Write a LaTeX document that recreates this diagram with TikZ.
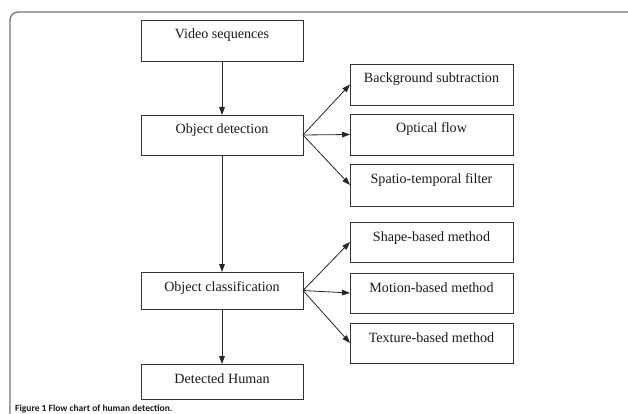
\documentclass[tikz,border=0pt]{standalone}
\usepackage{fontspec}
\setmainfont{Liberation Serif}
\newfontfamily\capfont{Carlito}
\usetikzlibrary{arrows.meta}
\tikzset{
  bx/.style={draw=black!80, line width=0.8pt, inner sep=0pt, outer sep=0pt,
    text=black!90, font=\fontsize{14.1}{16}\selectfont,
    text height=19pt, text depth=#1},
  lbox/.style={bx=#1, minimum width=162pt},
  rbox/.style={bx=#1, minimum width=163pt},
  conn/.style={draw=black!85, line width=0.8pt, -{Triangle[length=8pt,width=5.6pt]}},
  frame/.style={draw=black!55, line width=1.3pt, rounded corners=8pt}
}
\begin{document}
\begin{tikzpicture}[x=1pt,y=-1pt]
\useasboundingbox (0,0) rectangle (628,414);
\draw[frame] (10,440) -- (10,12) -- (660,12);
% left column
\node[lbox=22pt] (vid) at (222,40.5) {Video sequences};
\node[lbox=21pt] (det) at (222,135) {Object detection};
\node[lbox=18pt] (cls) at (222,290.5) {Object classification};
\node[lbox=16pt] (hum) at (222,381.5) {Detected Human};
% right column
\node[rbox=22pt] (bg) at (431.5,84.5) {Background subtraction};
\node[rbox=22pt] (of) at (431.5,134.5) {Optical flow};
\node[rbox=23pt] (st) at (431.5,185) {Spatio-temporal filter};
\node[rbox=21pt] (sh) at (431.5,242) {Shape-based method};
\node[rbox=21pt] (mo) at (431.5,293) {Motion-based method};
\node[rbox=21pt] (tx) at (431.5,343) {Texture-based method};
% connectors
\draw[conn] (vid.south) -- (det.north);
\draw[conn] (det.south) -- (cls.north);
\draw[conn] (cls.south) -- (hum.north);
\draw[conn] (det.east) -- (bg.west);
\draw[conn] (det.east) -- (of.west);
\draw[conn] (det.east) -- (st.west);
\draw[conn] (cls.east) -- (sh.west);
\draw[conn] (cls.east) -- (mo.west);
\draw[conn] (cls.east) -- (tx.west);
% caption
\node[anchor=base west, inner sep=0pt, font=\capfont\bfseries\fontsize{9.5}{11}\selectfont, text=black!90] (cap) at (15,411.3) {Figure 1 Flow chart of human detection.};
\end{tikzpicture}
\end{document}
